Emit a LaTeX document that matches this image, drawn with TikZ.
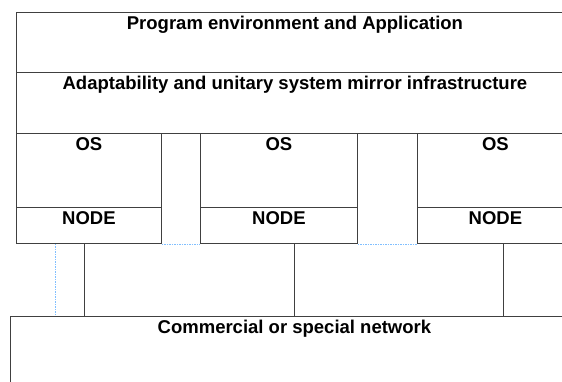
\documentclass[tikz,border=0pt]{standalone}
\usepackage{fontspec}
\setmainfont{Liberation Sans}
\usepackage{tikz}

\begin{document}
\begin{tikzpicture}
[x=1pt,y=-1pt,line width=0.9pt,draw=black!75,
 layer/.style={draw,rectangle,anchor=north west,inner xsep=0pt,inner ysep=3pt,
   text height=13pt,text depth=#1},
 link/.style={draw=black!75,line width=0.9pt},
 mirror/.style={draw=blue!50!cyan!50,line width=0.5pt,dash pattern=on 1.5pt off 1pt}]
\fontsize{18.5}{21}\selectfont\bfseries
\path[use as bounding box,clip] (0,0) rectangle (562,381);
\node[layer=38pt,minimum width=557pt,minimum height=60pt] (app) at (16,12) {Program environment and Application};
\node[layer=39pt,minimum width=557pt,minimum height=61pt] (infra) at (16,72) {Adaptability and unitary system mirror infrastructure};
% three machines
\node[layer=52pt,minimum width=145pt,minimum height=74pt] (os1) at (16,133) {OS};
\node[layer=14pt,minimum width=145pt,minimum height=36pt] (node1) at (16,207) {NODE};
\node[layer=52pt,minimum width=157pt,minimum height=74pt] (os2) at (200,133) {OS};
\node[layer=14pt,minimum width=157pt,minimum height=36pt] (node2) at (200,207) {NODE};
\node[layer=52pt,minimum width=156pt,minimum height=74pt] (os3) at (417,133) {OS};
\node[layer=14pt,minimum width=156pt,minimum height=36pt] (node3) at (417,207) {NODE};
\node[layer=58pt,minimum width=568pt,minimum height=80pt] (net) at (10,316) {Commercial or special network};
% links
\draw[link] ([xshift=-4.5pt]node1.south) -- ([xshift=-4.5pt]node1.south |- net.north);
\draw[link] ([xshift=15.5pt]node2.south) -- ([xshift=15.5pt]node2.south |- net.north);
\draw[link] ([xshift=8pt]node3.south) -- ([xshift=8pt]node3.south |- net.north);
\draw[mirror] (node1.south east) -- (node2.south west);
\draw[mirror] (node2.south east) -- (node3.south west);
\draw[mirror] ([xshift=-33.5pt]node1.south) -- ([xshift=-33.5pt]node1.south |- net.north);
\end{tikzpicture}
\end{document}
